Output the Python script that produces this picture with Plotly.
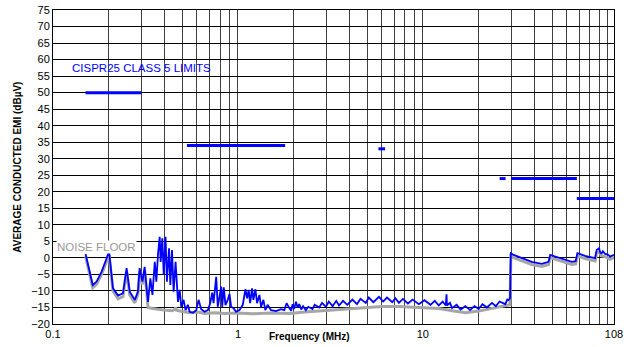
import math
import plotly.graph_objects as go

# measured average conducted EMI (blue)
meas_f = [0.150, 0.156, 0.164, 0.172, 0.183, 0.195, 0.201, 0.211, 0.225, 0.239, 0.250, 0.260, 0.277, 0.288,
          0.294, 0.3045, 0.313, 0.322, 0.3265, 0.336, 0.345, 0.355, 0.362, 0.370, 0.3775, 0.382, 0.390, 0.397,
          0.406, 0.413, 0.424, 0.431, 0.440, 0.449, 0.460, 0.474, 0.484, 0.494, 0.508, 0.521, 0.536, 0.548,
          0.571, 0.595, 0.6125, 0.633, 0.660, 0.688, 0.708, 0.726, 0.738, 0.763, 0.778, 0.795, 0.812, 0.822,
          0.8385, 0.856, 0.881, 0.900, 0.919, 0.946, 0.978, 1.019, 1.062, 1.097, 1.121, 1.143, 1.164, 1.192,
          1.212, 1.243, 1.269, 1.306, 1.334, 1.373, 1.406, 1.447, 1.510, 1.607, 1.710, 1.781, 1.833, 1.896,
          1.94, 1.975, 2.01, 2.06, 2.10, 2.145, 2.2, 2.25, 2.33, 2.4, 2.53, 2.6, 2.75, 2.85, 2.99, 3.1, 3.25,
          3.4, 3.52, 3.7, 3.9, 4.16, 4.4, 4.6, 4.91, 5.1, 5.4, 5.79, 6.1, 6.4, 6.83, 7.1, 7.42, 7.8, 8.3, 8.8,
          9.51, 10.2, 11.0, 11.6, 12.19, 12.8, 13.3, 13.42, 13.5, 14.0, 14.38, 15.2, 16.0, 16.98, 18.0, 19.0,
          20.04, 21.0, 22.2, 23.64, 24.8, 26.0, 27.9, 28.6, 29.08, 29.6,
          29.9, 30.95, 34.3, 38.8, 43.95, 47.8, 48.8, 51.9, 58.7, 63.8, 67.0, 68.5, 75.3, 85.3, 87.0, 89.7,
          91.0, 92.6, 94.0, 96.6, 100.0, 102.8, 108.0]
meas_db = [1.2, -3.0, -8.2, -7.2, -4.2, -0.1, 2.0, -9.2, -11.4, -10.7, -3.1, -10.2, -12.7, -10.2,
           -3.1, -7.2, -2.7, -10.2, -13.3, -6.2, -11.2, -1.2, -7.2, 1.4, 6.4, -1.2, 5.9, -5.2,
           6.4, -7.2, 2.9, -8.2, 2.4, -10.2, -1.2, -13.3, -9.7, -14.8, -12.7, -15.8, -14.2, -16.3,
           -16.6, -15.8, -12.7, -15.5, -16.3, -15.8, -13.7, -10.5, -13.7, -5.7, -14.8, -11.7, -8.7, -14.8,
           -8.9, -14.3, -12.7, -10.9, -14.8, -15.2, -16.3, -15.8, -14.2, -9.5, -12.2, -9.7, -13.7, -9.2,
           -12.7, -9.5, -13.7, -11.2, -14.8, -12.7, -15.8, -14.2, -15.8, -16.1, -15.5, -15.8, -13.7, -15.2,
           -16.0, -14.0, -15.5, -13.3, -15.0, -14.0, -15.6, -14.6, -15.8, -14.8, -15.5, -14.2, -15.0, -13.6, -14.8, -13.2, -14.6,
           -13.0, -14.4, -13.0, -14.2, -12.6, -14.0, -12.4, -13.6, -12.0, -13.4, -11.8, -13.2, -12.0, -13.4, -12.2, -13.6, -12.4, -13.8, -12.6,
           -14.0, -12.8, -14.2, -13.0, -14.4, -13.2, -14.4, -11.0, -14.4, -13.6, -15.2, -14.2, -15.6, -14.6, -15.8, -14.6,
           -15.4, -14.0, -15.0, -13.6, -14.6, -13.2, -14.0, -12.6, -12.8, -12.2,
           1.4, 0.9, -0.1, -1.2, -1.8, -1.2, 0.9, 0.4, -0.6, -1.2, -1.0, 1.4, 0.6, -0.1, 2.4, 2.9,
           1.6, 1.4, 2.0, 1.2, 1.0, 0.4, 0.9]

# noise floor (gray)
noise_f = [0.150, 0.156, 0.164, 0.172, 0.183, 0.195, 0.201, 0.211, 0.225, 0.239, 0.250, 0.260, 0.277, 0.288,
           0.294, 0.3045, 0.313, 0.322, 0.3265, 0.345, 0.37, 0.40, 0.44, 0.455, 0.46, 0.465, 0.50, 0.55, 0.61,
           0.66, 0.75, 0.85, 1.0, 1.2, 1.5, 1.9, 2.3, 2.75, 3.5, 4.2, 5.0, 6.0, 7.4, 9.5, 12.2, 14.4, 17.0,
           20.0, 23.6, 27.9, 29.6, 29.9, 30.95, 34.3, 38.8, 43.95, 47.8, 48.8, 51.9, 58.7, 63.8, 67.0, 68.5,
           75.3, 85.3, 87.0, 89.7, 92.6, 96.6, 102.8, 108.0]
noise_db = [0.5, -4.0, -9.0, -8.0, -5.0, -1.0, 1.0, -10.0, -12.4, -11.7, -4.0, -11.2, -13.6, -11.0,
            -4.0, -8.0, -3.6, -11.2, -15.0, -15.3, -15.6, -15.8, -16.0, -15.6, -15.0, -15.8, -16.2, -16.6, -16.4,
            -16.8, -16.6, -16.8, -16.7, -16.9, -16.7, -16.8, -16.4, -16.1, -15.7, -15.3, -15.0, -14.7, -14.7, -14.9, -15.3, -16.0, -16.6,
            -16.1, -15.3, -14.6, -14.2, 0.6, 0.1, -0.9, -2.0, -2.6, -2.0, 0.1, -0.4, -1.4, -2.0, -1.8, 0.6,
            -0.2, -0.9, 1.4, 1.8, 0.6, 0.4, -0.4, 0.1]

# CISPR25 class 5 average limits
lim_start = [0.15, 0.53, 5.75, 26.0, 30.0, 68.0]
lim_end = [0.30, 1.80, 6.25, 28.0, 68.0, 108.0]
lim_db = [50, 34, 33, 24, 24, 18]

grid_f = [m * 10 ** e for e in (-1, 0, 1) for m in range(1, 10)] + [100, 108]
label_map = {0.1: "0.1", 1: "1", 10: "10", 108: "108"}
tick_text = [label_map.get(round(v, 6), "") for v in grid_f]

fig = go.Figure()

fig.add_trace(go.Scatter(x=noise_f, y=noise_db, mode="lines",
                         line=dict(color="#a6a6a6", width=3), showlegend=False))
fig.add_trace(go.Scatter(x=meas_f, y=meas_db, mode="lines",
                         line=dict(color="#0000ff", width=1.8), showlegend=False))

lx, ly = [], []
for a, b, v in zip(lim_start, lim_end, lim_db):
    lx += [a, b, None]
    ly += [v, v, None]
fig.add_trace(go.Scatter(x=lx, y=ly, mode="lines",
                         line=dict(color="#0000ff", width=3), showlegend=False))

fig.add_annotation(text="CISPR25 CLASS 5 LIMITS", xref="paper", yref="y",
                   x=0.031, y=57.5, xanchor="left", yanchor="middle", showarrow=False,
                   font=dict(color="#0000ff", size=11.5))
fig.add_annotation(text="NOISE FLOOR", xref="paper", yref="y",
                   x=0.006, y=3.3, xanchor="left", yanchor="middle", showarrow=False,
                   bgcolor="white", borderpad=0,
                   font=dict(color="#999999", size=11.5))
fig.add_annotation(text="<b>AVERAGE CONDUCTED EMI (dBµV)</b>", xref="paper", yref="paper",
                   x=-0.078, y=0.5, textangle=-90, showarrow=False,
                   font=dict(size=10, color="black"))
fig.add_annotation(text="<b>Frequency (MHz)</b>", xref="paper", yref="paper",
                   x=0.458, y=-0.04, yanchor="middle", showarrow=False,
                   font=dict(size=10, color="black"))

fig.update_xaxes(type="log", range=[-1, math.log10(108)], tickvals=grid_f, ticktext=tick_text,
                 showgrid=True, gridcolor="#404040", gridwidth=1, automargin=False,
                 showline=True, linecolor="black", mirror=True, ticks="",
                 tickfont=dict(size=11, color="black"), zeroline=False)
fig.update_yaxes(range=[-20, 75], dtick=5, showgrid=True, gridcolor="black", gridwidth=1,
                 showline=True, linecolor="black", mirror=True, ticks="", automargin=False,
                 tickfont=dict(size=11, color="black"), zeroline=False)

fig.update_layout(width=626, height=347, margin=dict(l=53, r=12, t=10, b=23, autoexpand=False),
                  plot_bgcolor="white", paper_bgcolor="white",
                  font=dict(family="Liberation Sans, Arial, sans-serif"))

fig.write_html("out.html", config={"displayModeBar": False},
               post_script="document.body.style.margin='0';")
